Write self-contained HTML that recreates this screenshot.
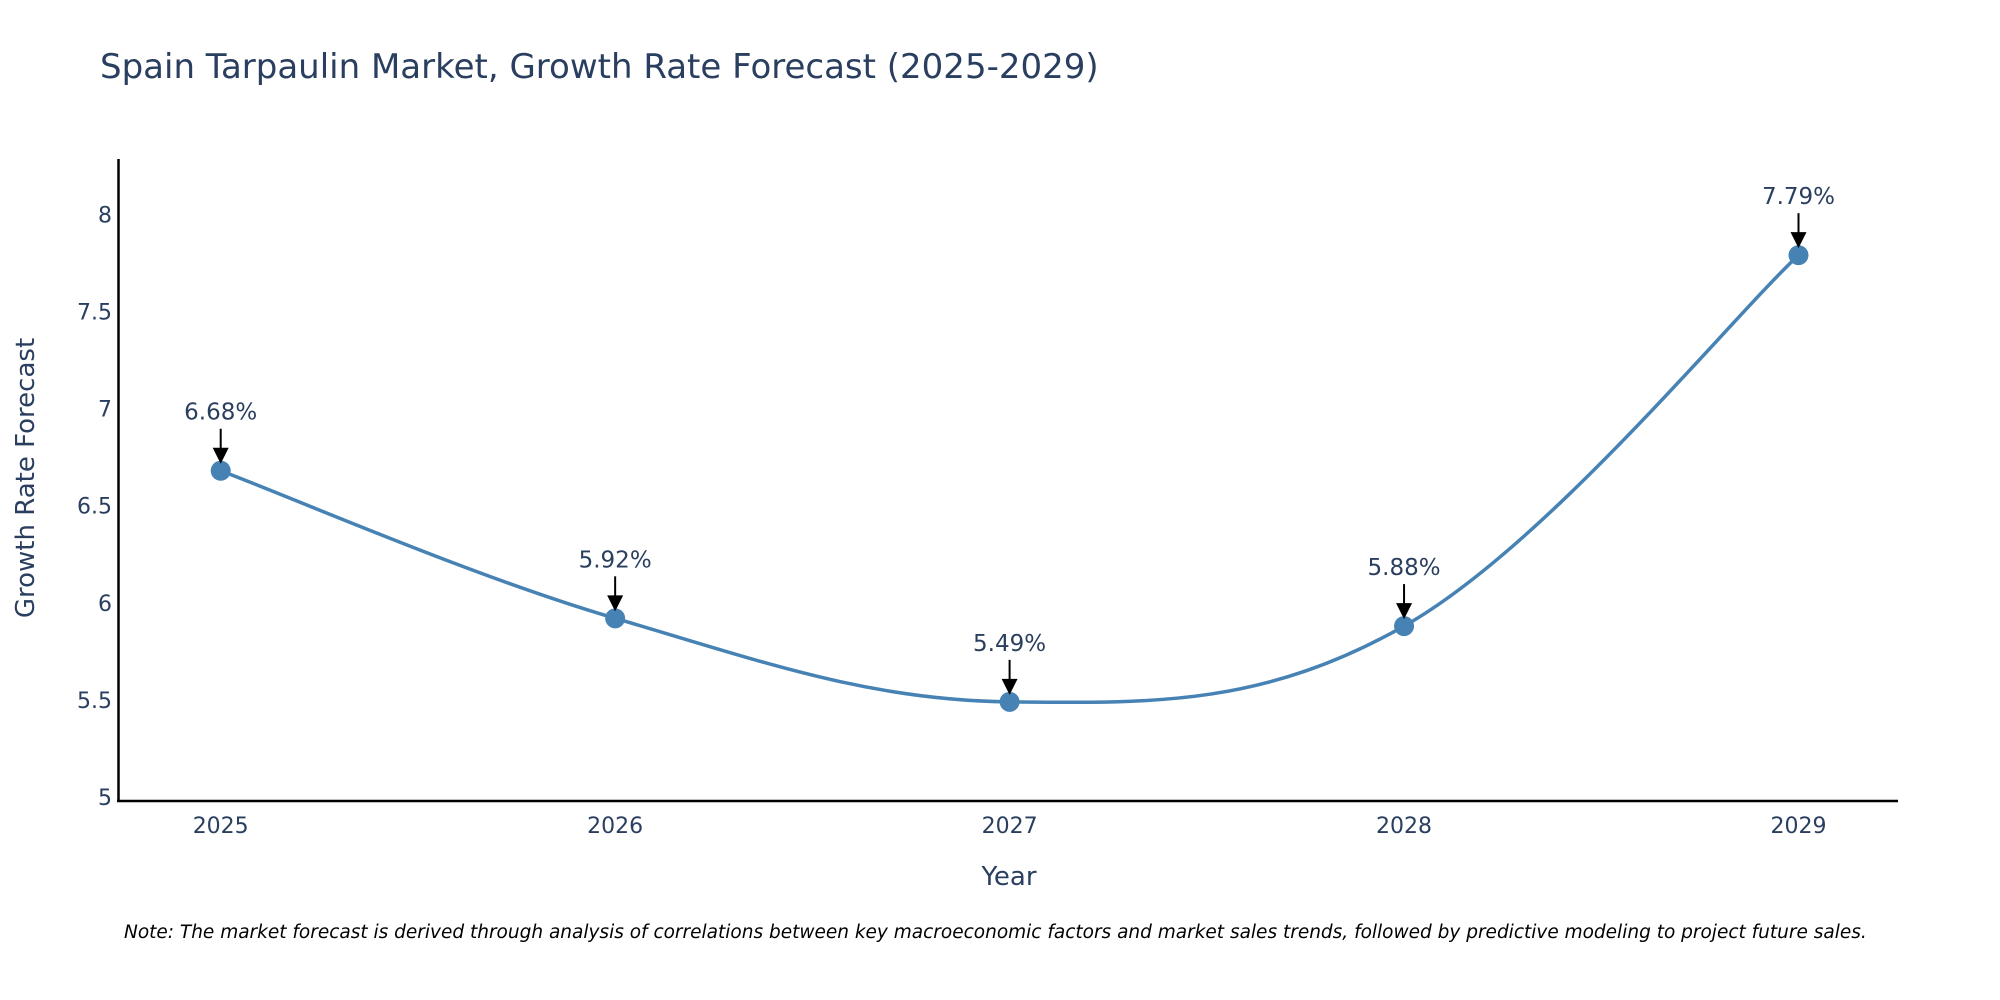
<!DOCTYPE html>
<html><head><meta charset="utf-8"><style>
html,body{margin:0;padding:0;background:#fff;overflow:hidden;}
svg{display:block;font-family:"DejaVu Sans","Liberation Sans",sans-serif;}
</style></head><body>
<svg id="chart" width="2000" height="1000" viewBox="0 0 2000 1000">
<text x="100" y="78" font-size="34" fill="#2a3f5f">Spain Tarpaulin Market, Growth Rate Forecast (2025-2029)</text>
<g id="yticks"></g>
<g id="xticks"></g>
<line x1="118.5" y1="159" x2="118.5" y2="802" stroke="#000" stroke-width="2.5"/>
<line x1="117" y1="801" x2="1898" y2="801" stroke="#000" stroke-width="2.5"/>
<path id="line" fill="none" stroke="#4682b4" stroke-width="3.5"/>
<g id="points"></g>
<g id="annots"></g>
<text x="1009" y="885" font-size="26" fill="#2a3f5f" text-anchor="middle">Year</text>
<text x="34" y="478" font-size="26" fill="#2a3f5f" text-anchor="middle" transform="rotate(-90 34 478)">Growth Rate Forecast</text>
<text x="124" y="938" font-size="18.5" font-style="italic" fill="#000">Note: The market forecast is derived through analysis of correlations between key macroeconomic factors and market sales trends, followed by predictive modeling to project future sales.</text>
</svg>
<script>
const years = [2025, 2026, 2027, 2028, 2029];
const rates = [6.68, 5.92, 5.49, 5.88, 7.79];
const yTickValues = [5, 5.5, 6, 6.5, 7, 7.5, 8];
const yTickLabels = ["5", "5.5", "6", "6.5", "7", "7.5", "8"];

const NS = "http://www.w3.org/2000/svg";
function xs(v){ return 220.7 + (v - 2025) * (1798.5 - 220.7) / 4; }
function ys(v){ return 797 - (v - 5) * 194.2; }
function mk(tag, attrs, parent){ const e = document.createElementNS(NS, tag); for (const k in attrs) e.setAttribute(k, attrs[k]); parent.appendChild(e); return e; }

const yg = document.getElementById('yticks');
yTickValues.forEach((v, i) => {
  const t = mk('text', {x: 112, y: ys(v) + 8, 'font-size': 22, fill: '#2a3f5f', 'text-anchor': 'end'}, yg);
  
  
  t.textContent = yTickLabels[i];
});
const xg = document.getElementById('xticks');
years.forEach(y => {
  const t = mk('text', {x: xs(y), y: 833, 'font-size': 22, fill: '#2a3f5f', 'text-anchor': 'middle'}, xg);
  
  
  t.textContent = String(y);
});

const pts = years.map((y, i) => [xs(y), ys(rates[i])]);
let d = 'M' + pts[0][0] + ',' + pts[0][1];
const tension = 0.18;
for (let i = 0; i < pts.length - 1; i++) {
  const p0 = pts[Math.max(i - 1, 0)], p1 = pts[i], p2 = pts[i + 1], p3 = pts[Math.min(i + 2, pts.length - 1)];
  const c1 = [p1[0] + (p2[0] - p0[0]) * tension, p1[1] + (p2[1] - p0[1]) * tension];
  const c2 = [p2[0] - (p3[0] - p1[0]) * tension, p2[1] - (p3[1] - p1[1]) * tension];
  d += ' C' + c1 + ' ' + c2 + ' ' + p2;
}
document.getElementById('line').setAttribute('d', d);

const pg = document.getElementById('points');
const ag = document.getElementById('annots');
pts.forEach((p, i) => {
  const c = mk('circle', {cx: p[0], cy: p[1], r: 10, fill: '#4682b4'}, pg);
  
  
  const l = mk('line', {x1: p[0], y1: p[1] - 42, x2: p[0], y2: p[1] - 20, stroke: '#000', 'stroke-width': 2}, ag);
  
  
  const h = mk('polygon', {points: (p[0]-8)+','+(p[1]-23)+' '+(p[0]+8)+','+(p[1]-23)+' '+p[0]+','+(p[1]-7), fill: '#000'}, ag);
  
  
  const t = mk('text', {x: p[0], y: p[1] - 51, 'font-size': 23, fill: '#2a3f5f', 'text-anchor': 'middle'}, ag);
  
  
  t.textContent = rates[i].toFixed(2) + '%';
});
</script>
</body></html>
